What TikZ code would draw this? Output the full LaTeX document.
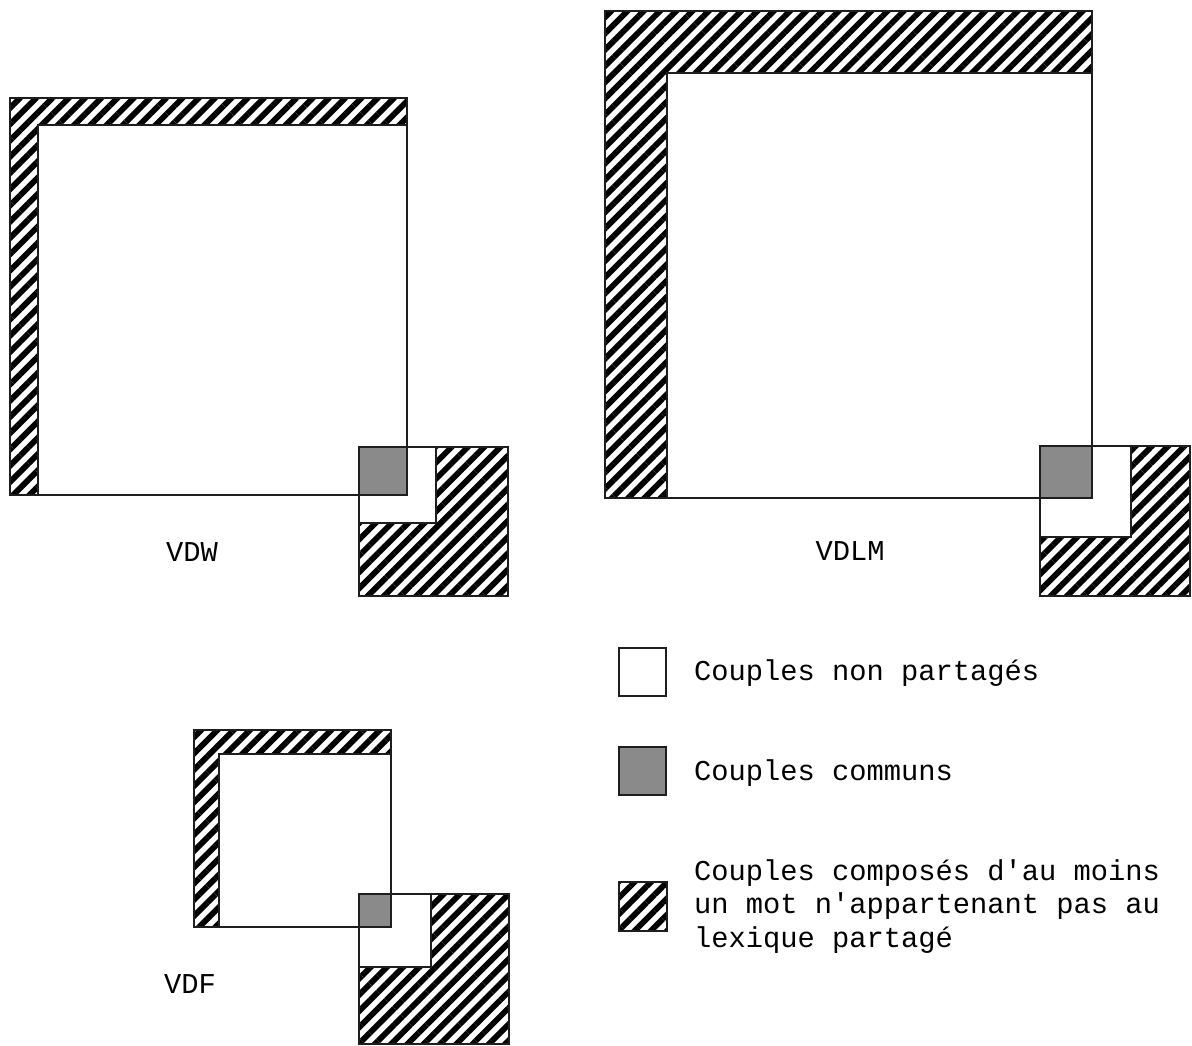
\documentclass[tikz,border=0pt]{standalone}
\usepackage{fontspec}
\newfontfamily\monofam{Liberation Mono}
\usetikzlibrary{patterns.meta}
\definecolor{commongray}{RGB}{138,138,138}
\definecolor{edgecol}{RGB}{30,30,30}
\tikzset{
  hatchfill/.style={pattern={Lines[angle=45,distance=11.5pt,line width=5.8pt]},pattern color=black},
  whitefill/.style={fill=white},
  grayfill/.style={fill=commongray},
  edge/.style={draw=edgecol,line width=1.6pt},
  lbl/.style={font=\monofam\fontsize{28.75}{33.5}\selectfont,inner sep=0pt,anchor=base},
  legtxt/.style={font=\monofam\fontsize{28.75}{33.5}\selectfont,inner sep=0pt,anchor=base west,align=left},
}
\begin{document}
\begin{tikzpicture}[x=1pt,y=-1pt]
\useasboundingbox (0,0) rectangle (1192,1045);
% ---------- VDW ----------
\fill[hatchfill] (10,98) rectangle (407,495);
\fill[whitefill] (38,125) rectangle (407,495);
\fill[hatchfill] (359,447) rectangle (508,596);
\fill[whitefill] (359,447) rectangle (436,523);
\fill[grayfill] (359,447) rectangle (407,495);
\draw[edge] (10,98) rectangle (407,495);
\draw[edge] (38,495) -- (38,125) -- (407,125);
\draw[edge] (359,447) rectangle (508,596);
\draw[edge] (436,447) -- (436,523) -- (359,523);
\node[lbl] (vdw) at (192,561) {VDW};
% ---------- VDLM ----------
\fill[hatchfill] (605,11) rectangle (1092,498);
\fill[whitefill] (667,73) rectangle (1092,498);
\fill[hatchfill] (1040,446) rectangle (1190,596);
\fill[whitefill] (1040,446) rectangle (1131,537);
\fill[grayfill] (1040,446) rectangle (1092,498);
\draw[edge] (605,11) rectangle (1092,498);
\draw[edge] (667,498) -- (667,73) -- (1092,73);
\draw[edge] (1040,446) rectangle (1190,596);
\draw[edge] (1131,446) -- (1131,537) -- (1040,537);
\node[lbl] (vdlm) at (850,560) {VDLM};
% ---------- VDF ----------
\fill[hatchfill] (194,730) rectangle (391,927);
\fill[whitefill] (219,754) rectangle (391,927);
\fill[hatchfill] (359,894) rectangle (509,1044);
\fill[whitefill] (359,894) rectangle (431,967);
\fill[grayfill] (359,894) rectangle (391,927);
\draw[edge] (194,730) rectangle (391,927);
\draw[edge] (219,927) -- (219,754) -- (391,754);
\draw[edge] (359,894) rectangle (509,1044);
\draw[edge] (431,894) -- (431,967) -- (359,967);
\node[lbl] (vdf) at (190,993) {VDF};
% ---------- Legend ----------
\filldraw[whitefill,edge] (619,648) rectangle (666,696);
\node[legtxt] (leg1) at (694,680) {Couples non partagés};
\filldraw[grayfill,edge] (619,747) rectangle (666,795);
\node[legtxt] (leg2) at (694,780) {Couples communs};
\fill[hatchfill] (619,882) rectangle (667,931);
\draw[edge] (619,882) rectangle (667,931);
\node[legtxt] (leg3) at (694,947) {Couples composés d'au moins\\un mot n'appartenant pas au\\lexique partagé};
\end{tikzpicture}
\end{document}
